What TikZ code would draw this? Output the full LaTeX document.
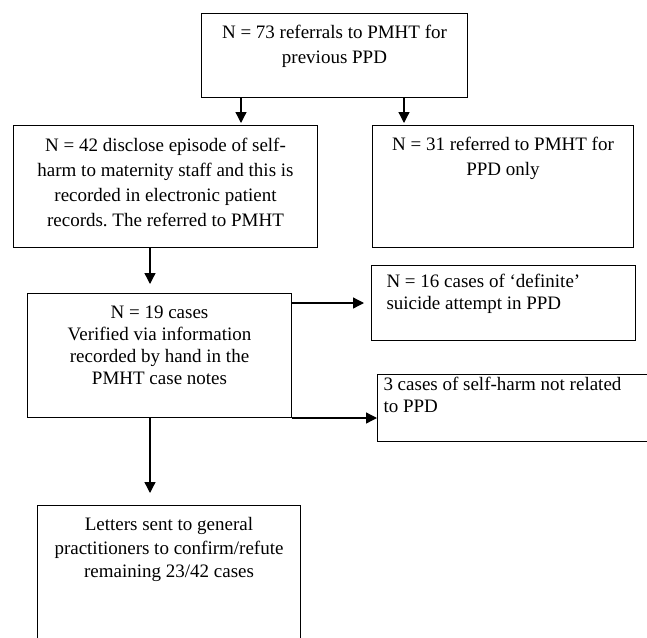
\documentclass[tikz,border=0pt]{standalone}
\usepackage{fontspec}
\setmainfont{Liberation Serif}
\usetikzlibrary{arrows.meta}
\frenchspacing
\newcommand{\boxtxt}[5]{\parbox[c][#2][t]{#1}{#3\rule{0pt}{#4}#5\par}}

\begin{document}
\begin{tikzpicture}[x=1pt, y=-1pt,
  box/.style={draw, line width=1pt, inner sep=0pt, anchor=north west},
  wide/.style={font=\fontsize{19}{25}\selectfont},
  tight/.style={font=\fontsize{19}{22}\selectfont},
  arr/.style={line width=1.3pt, -{Triangle[length=11pt,width=11pt]}}]
\useasboundingbox (0,0) rectangle (647,637);
\clip (0,0) rectangle (647,637);
\node[box, wide] (refs) at (201,13) {\boxtxt{266pt}{84pt}{\centering}{25pt}{N = 73 referrals to PMHT for\\ previous PPD}};
\node[box, wide] (disclose) at (13,125) {\boxtxt{304pt}{122pt}{\centering}{26pt}{N = 42 disclose episode of self-\\ harm to maternity staff and this is\\ recorded in electronic patient\\ records. The referred to PMHT}};
\node[box, wide] (ppdonly) at (372,125) {\boxtxt{261pt}{122pt}{\centering}{25pt}{N = 31 referred to PMHT for\\ PPD only}};
\node[box, tight] (verified) at (27,293) {\boxtxt{264pt}{124pt}{\centering}{25pt}{N = 19 cases\\ Verified via information\\ recorded by hand in the\\ PMHT case notes}};
\node[box, tight] (definite) at (371,265) {\boxtxt{264pt}{75pt}{\raggedright\leftskip=15pt}{22pt}{N = 16 cases of ‘definite’\\ suicide attempt in PPD}};
\node[box, tight] (notppd) at (377,374) {\boxtxt{290pt}{67pt}{\raggedright\leftskip=6pt}{16pt}{3 cases of self-harm not related\\ to PPD}};
\node[box, font=\fontsize{19}{23.5}\selectfont] (letters) at (37,505) {\boxtxt{263pt}{150pt}{\centering}{25pt}{Letters sent to general\\ practitioners to confirm/refute\\ remaining 23/42 cases}};

\draw[arr, shorten >=2pt] (refs.south -| 241,0) -- (disclose.north -| 241,0);
\draw[arr, shorten >=2pt] (refs.south -| 404,0) -- (ppdonly.north -| 404,0);
\draw[arr, shorten >=9pt] (disclose.south -| 150,0) -- (verified.north -| 150,0);
\draw[arr, shorten >=7pt] (verified.east |- definite.west) -- (definite.west);
\draw[arr] (verified.south east) -- (verified.south east -| notppd.west);
\draw[arr, shorten >=12pt] (verified.south -| 150,0) -- (letters.north -| 150,0);
\end{tikzpicture}
\end{document}
